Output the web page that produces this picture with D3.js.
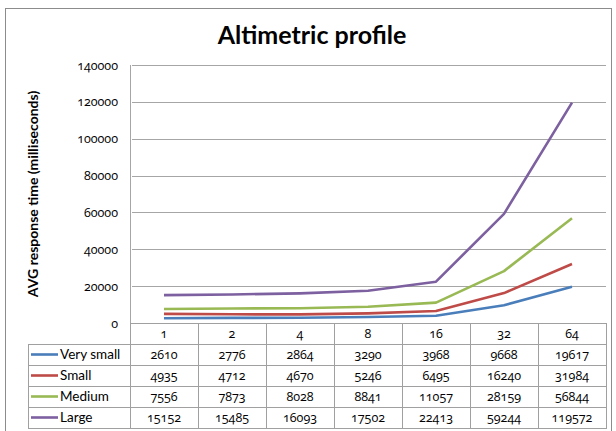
<!DOCTYPE html>
<html>
<head>
<meta charset="utf-8">
<script src="https://cdn.jsdelivr.net/npm/d3@7"></script>
<style>
	body { margin: 0; background: #fff; }
	svg text { font-family: Lato, "Open Sans", sans-serif; fill: #000; }
	svg text.num { font-family: "Open Sans", sans-serif; font-feature-settings: "onum" 1; font-variant-numeric: oldstyle-nums; }
</style>
</head>
<body>
<div id="altimetric-chart"></div>
<script>
// chart data
const categories = ["1", "2", "4", "8", "16", "32", "64"];
const series_names = ["Very small", "Small", "Medium", "Large"];
const very_small = [2610, 2776, 2864, 3290, 3968, 9668, 19617];
const small = [4935, 4712, 4670, 5246, 6495, 16240, 31984];
const medium = [7556, 7873, 8028, 8841, 11057, 28159, 56844];
const large = [15152, 15485, 16093, 17502, 22413, 59244, 119572];
const y_ticks = [0, 20000, 40000, 60000, 80000, 100000, 120000, 140000];
const colors = ["#4a7ebb", "#be4b48", "#98b954", "#7d60a0"];

class AltimetricChart {

	constructor(element_id) {
		const series = [very_small, small, medium, large].map((values, i) => ({
			name: series_names[i],
			color: colors[i],
			values: values
		}));

		const width = 616, height = 431;
		const plot = {left: 130, right: 606, top: 65, bottom: 323};

		const svg = d3.select("#" + element_id)
			.append("svg")
				.attr("width", width)
				.attr("height", height);

		// outer frame
		svg.append("rect")
			.attr("x", 5.5).attr("y", 8.5)
			.attr("width", 606).attr("height", 440)
			.attr("fill", "none")
			.attr("stroke", "#8c8c8c");

		svg.append("text")
			.attr("x", 312).attr("y", 44)
			.attr("text-anchor", "middle")
			.style("font-size", "25px")
			.style("font-weight", "bold")
			.text("Altimetric profile");

		const x = d3.scaleBand()
			.domain(categories)
			.range([plot.left, plot.right]);

		const y = d3.scaleLinear()
			.domain([0, 140000])
			.range([plot.bottom, plot.top]);

		// gridlines + y labels
		const y_axis = svg.append("g")
			.attr("transform", "translate(" + plot.left + ",0)")
			.call(d3.axisLeft(y).tickValues(y_ticks).tickSize(-(plot.right - plot.left)).tickPadding(12).tickFormat(d => d));
		y_axis.select(".domain").remove();
		y_axis.selectAll(".tick line")
			.attr("stroke", "#a6a6a6")
			.attr("x1", 2)
			.attr("shape-rendering", "crispEdges");
		y_axis.selectAll("text")
			.attr("class", "num")
			.style("font-size", "12.5px")
			.attr("fill", "#000");

		svg.append("line")
			.attr("x1", plot.left + 0.5).attr("x2", plot.left + 0.5)
			.attr("y1", plot.top).attr("y2", plot.bottom)
			.attr("stroke", "#a6a6a6");

		svg.append("text")
			.attr("transform", "translate(38," + ((plot.top + plot.bottom) / 2) + ") rotate(-90)")
			.attr("text-anchor", "middle")
			.style("font-size", "14px")
			.style("font-weight", "bold")
			.text("AVG response time (milliseconds)");

		// lines
		const line = d3.line()
			.x((d, i) => x(categories[i]) + x.bandwidth() / 2)
			.y(d => y(d));

		svg.append("g").selectAll("path")
			.data(series)
			.join("path")
				.attr("fill", "none")
				.attr("stroke", d => d.color)
				.attr("stroke-width", 2.6)
				.attr("stroke-linejoin", "round")
				.attr("d", d => line(d.values));

		// data table
		const rows = d3.scaleBand()
			.domain(["header"].concat(series_names))
			.range([plot.bottom, 428]);
		const legend_left = 28;
		const grey = "#a0a0a0";
		const table = svg.append("g").attr("shape-rendering", "crispEdges");

		// horizontal lines
		rows.domain().forEach((r, i) => {
			table.append("line")
				.attr("x1", i == 0 ? plot.left : legend_left).attr("x2", plot.right)
				.attr("y1", rows(r) + 0.5).attr("y2", rows(r) + 0.5)
				.attr("stroke", grey);
		});
		table.append("line")
			.attr("x1", legend_left).attr("x2", plot.right)
			.attr("y1", 428.5).attr("y2", 428.5)
			.attr("stroke", grey);

		// vertical lines
		categories.forEach(c => {
			table.append("line")
				.attr("x1", x(c) + 0.5).attr("x2", x(c) + 0.5)
				.attr("y1", plot.bottom).attr("y2", 428.5)
				.attr("stroke", grey);
		});
		table.append("line")
			.attr("x1", plot.right + 0.5).attr("x2", plot.right + 0.5)
			.attr("y1", plot.bottom).attr("y2", 428.5)
			.attr("stroke", grey);
		table.append("line")
			.attr("x1", legend_left + 0.5).attr("x2", legend_left + 0.5)
			.attr("y1", rows(series_names[0])).attr("y2", 428.5)
			.attr("stroke", grey);

		// header labels
		svg.append("g").selectAll("text")
			.data(categories)
			.join("text")
				.attr("class", "num")
				.attr("x", d => x(d) + x.bandwidth() / 2)
				.attr("y", rows("header") + rows.bandwidth() / 2 + 4)
				.attr("text-anchor", "middle")
				.style("font-size", "12.5px")
				.text(d => d);

		// legend cells
		const legend = svg.append("g").selectAll("g")
			.data(series)
			.join("g")
				.attr("transform", d => "translate(0," + (rows(d.name) + rows.bandwidth() / 2) + ")");
		legend.append("line")
			.attr("x1", 31).attr("x2", 58)
			.attr("stroke", d => d.color)
			.attr("stroke-width", 2.6);
		legend.append("text")
			.attr("x", 60).attr("y", 4)
			.style("font-size", "13.5px")
			.text(d => d.name);

		// values
		legend.selectAll(".val")
			.data(d => d.values)
			.join("text")
				.attr("class", "val num")
				.attr("x", (d, i) => x(categories[i]) + x.bandwidth() / 2)
				.attr("y", 4)
				.attr("text-anchor", "middle")
				.style("font-size", "12.5px")
				.text(d => d);
	}
}

function whenDocumentLoaded(action) {
	if (document.readyState === "loading") {
		document.addEventListener("DOMContentLoaded", action);
	} else {
		action();
	}
}

whenDocumentLoaded(() => {
	plot_object = new AltimetricChart('altimetric-chart');
});
</script>
</body>
</html>
